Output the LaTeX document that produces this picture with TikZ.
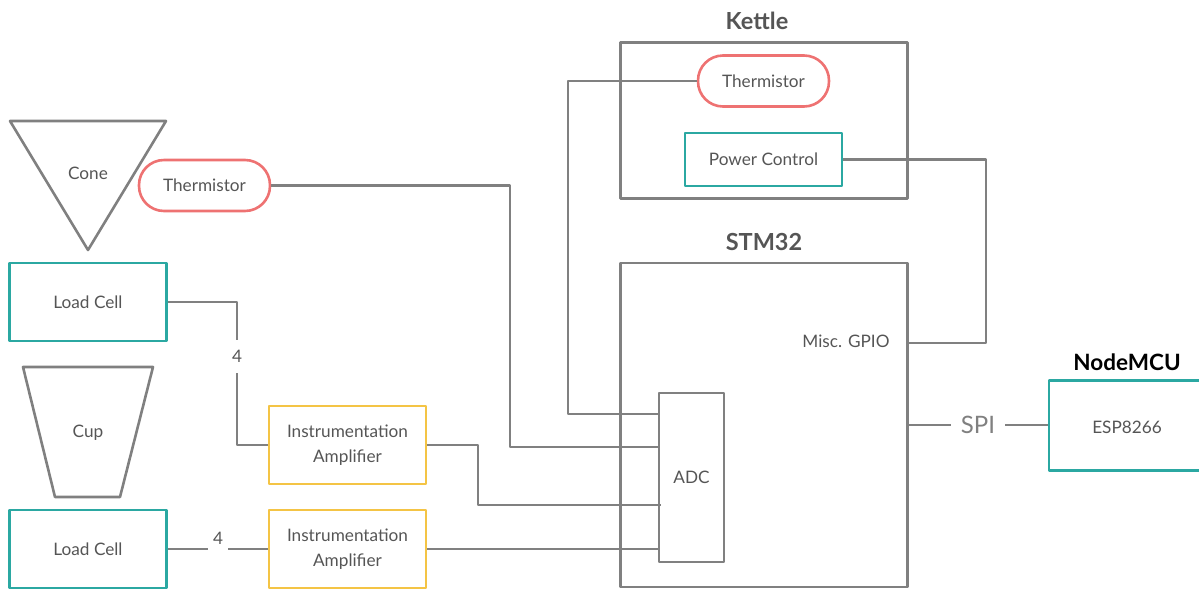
\documentclass[tikz,border=0pt]{standalone}
\usepackage{fontspec}
\setmainfont{Lato}
\definecolor{wiregray}{HTML}{808080}
\definecolor{txtgray}{HTML}{555555}
\definecolor{tealc}{HTML}{2BA8A2}
\definecolor{redc}{HTML}{EE7272}
\definecolor{yellowc}{HTML}{F4C445}
\begin{document}
\begin{tikzpicture}[x=1pt,y=-1pt,
  wire/.style={draw=wiregray,line width=2.6pt},
  txt/.style={text=txtgray,font=\fontsize{17.2}{21}\selectfont,inner sep=0pt,align=center},
  title/.style={text=txtgray,font=\fontsize{23.5}{27}\selectfont\bfseries,inner sep=0pt},
  graybox/.style={draw=wiregray,line width=2.6pt,inner sep=0pt,txt},
  tealbox/.style={draw=tealc,line width=2.6pt,inner sep=0pt,txt},
  ampbox/.style={draw=yellowc,line width=2.6pt,inner sep=0pt,txt,minimum width=157pt,minimum height=78pt},
  pill/.style={draw=redc,line width=2.6pt,inner sep=0pt,txt,rounded corners=25pt,minimum width=131pt,minimum height=51pt},
  line join=round]
\useasboundingbox (0,0) rectangle (1199,590);
% Kettle
\node[title] (kt) at (757,21) {Kettle};
\node[graybox,minimum width=287pt,minimum height=156pt] (kettle) at (764,120.5) {};
\node[pill] (th2) at (763.5,81) {Thermistor};
\node[tealbox,minimum width=157pt,minimum height=53pt] (pc) at (763.5,159.5) {Power Control};
% STM32
\node[title] (st) at (764,242) {STM32};
\node[graybox,minimum width=287pt,minimum height=324pt] (stm) at (764,425) {};
\node[txt] (gpio) at (846,341) {Misc. GPIO};
\node[graybox,minimum width=65pt,minimum height=169pt] (adc) at (691.5,477.5) {ADC};
% NodeMCU
\node[title,text=black,font=\fontsize{22.5}{26}\selectfont\bfseries] (nm) at (1127,362) {NodeMCU};
\node[tealbox,minimum width=153pt,minimum height=90pt] (esp) at (1125.5,425.5) {};
\node[txt] (esptxt) at (1127,427) {ESP8266};
\node[txt,text=wiregray,font=\fontsize{24}{28}\selectfont,minimum width=54pt] (spi) at (978,425) {SPI};
% left side
\draw[draw=wiregray,line width=2.6pt] (10,121) -- (166,121) -- (88,250) -- cycle;
\node[txt] (cone) at (88,173) {Cone};
\node[pill] (th1) at (204.5,185.5) {Thermistor};
\node[tealbox,minimum width=157pt,minimum height=78pt] (lc1) at (88,302) {Load Cell};
\draw[draw=wiregray,line width=2.6pt] (23,367) -- (153,367) -- (120,497) -- (55,497) -- cycle;
\node[txt] (cup) at (88,433) {Cup};
\node[tealbox,minimum width=157pt,minimum height=78pt] (lc2) at (88,549) {Load Cell};
\node[ampbox] (amp1) at (347.5,445) {Instrumentation\\[4pt]Amplifier};
\node[ampbox] (amp2) at (347.5,549) {Instrumentation\\[4pt]Amplifier};
% labels 4
\node[txt,minimum height=33pt] (n4a) at (237,356.5) {4};
\node[txt] (n4b) at (218,538) {4};
\coordinate (g1) at (208,549);
\coordinate (g2) at (228,549);
% junctions
\coordinate (j1) at (510,447);
\coordinate (j2) at (568,414);
\coordinate (j3) at (478,505);
\coordinate (j4) at (986,343);
% connectors
\draw[wire] (lc1.east) -| (n4a.north);
\draw[wire] (n4a.south) |- (amp1.west);
\draw[wire] (lc2.east) -- (g1);
\draw[wire] (g2) -- (amp2.west);
\draw[wire] (th1.east) -| (j1) -- (j1 -| adc.west);
\draw[wire] (th2.west) -| (j2) -- (j2 -| adc.west);
\draw[wire] (amp1.east) -| (j3) -- ([xshift=3pt]j3 -| adc.west);
\draw[wire] (amp2.east) -- (amp2.east -| adc.west);
\draw[wire] (pc.east) -| (j4) -- (j4 -| stm.east);
\draw[wire] (spi.west -| stm.east) -- (spi.west);
\draw[wire] (spi.east) -- (spi.east -| esp.west);
\end{tikzpicture}
\end{document}
